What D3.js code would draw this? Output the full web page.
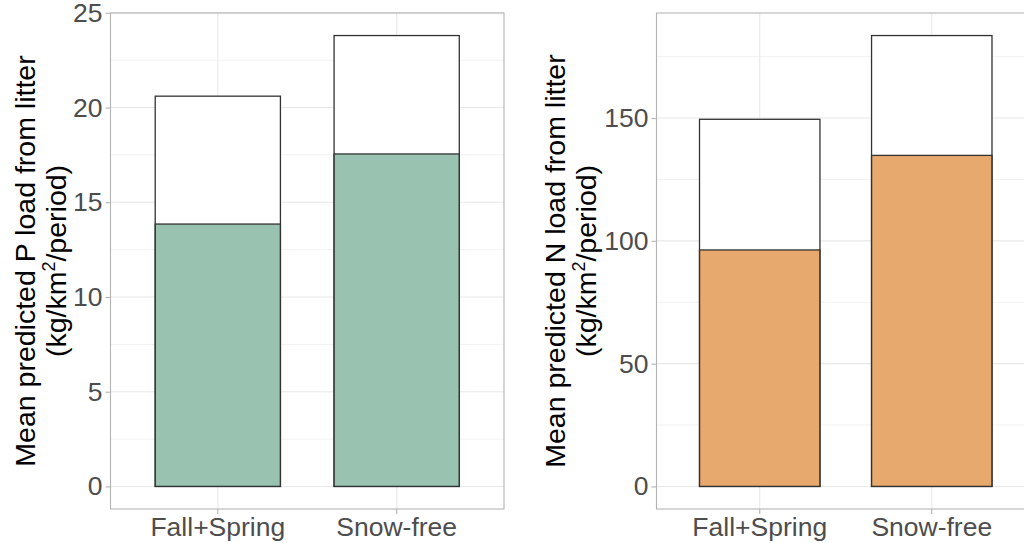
<!DOCTYPE html>
<html>
<head>
<meta charset="utf-8">
<script src="https://cdn.jsdelivr.net/npm/d3@7"></script>
<style>
  html, body { margin: 0; padding: 0; background: #fff; }
  svg { display: block; font-family: "Liberation Sans", Arial, Helvetica, sans-serif; }
</style>
</head>
<body>
<svg id="chart" width="1024" height="543"></svg>
<script>
// Seasons compared in both panels
const categories = ["Fall+Spring", "Snow-free"];

// Phosphorus load (kg/km²/period): total and litter-derived part
const pTotal  = [20.6, 23.8];
const pLitter = [13.85, 17.55];
const pTicks  = [0, 5, 10, 15, 20, 25];

// Nitrogen load (kg/km²/period): total and litter-derived part
const nTotal  = [149.5, 183.6];
const nLitter = [96.3, 134.8];
const nTicks  = [0, 50, 100, 150];

const svg = d3.select("#chart");

function panel(opts) {
  const { left, right, top, bottom, total, litter, ticks, fill, titleX, title } = opts;
  const g = svg.append("g");

  const x = d3.scaleBand()
    .domain(categories)
    .range([left, right])
    .paddingInner(0.3)
    .paddingOuter(0.25);

  const maxV = d3.max(total);
  const y = d3.scaleLinear()
    .domain([-0.05 * maxV, 1.05 * maxV])
    .range([bottom, top]);

  // minor grid (midpoints between major ticks)
  const step = ticks[1] - ticks[0];
  const minor = [];
  for (let i = 0; i < ticks.length; i++) {
    const v = ticks[i] + step / 2;
    if (v < y.domain()[1]) minor.push(v);
  }
  g.selectAll("line.minor").data(minor).join("line")
    .attr("x1", left).attr("x2", right)
    .attr("y1", d => y(d)).attr("y2", d => y(d))
    .attr("stroke", "#f2f2f2").attr("stroke-width", 1);

  // major grid
  g.selectAll("line.majory").data(ticks).join("line")
    .attr("x1", left).attr("x2", right)
    .attr("y1", d => y(d)).attr("y2", d => y(d))
    .attr("stroke", "#e8e8e8").attr("stroke-width", 1.1);
  g.selectAll("line.majorx").data(categories).join("line")
    .attr("x1", d => x(d) + x.bandwidth() / 2).attr("x2", d => x(d) + x.bandwidth() / 2)
    .attr("y1", top).attr("y2", bottom)
    .attr("stroke", "#e8e8e8").attr("stroke-width", 1.1);

  // total bars (white)
  g.selectAll("rect.total").data(categories).join("rect")
    .attr("x", d => x(d))
    .attr("width", x.bandwidth())
    .attr("y", (d, i) => y(total[i]))
    .attr("height", (d, i) => y(0) - y(total[i]))
    .attr("fill", "#fff")
    .attr("stroke", "#333").attr("stroke-width", 1.3);

  // litter-derived bars
  g.selectAll("rect.litter").data(categories).join("rect")
    .attr("x", d => x(d))
    .attr("width", x.bandwidth())
    .attr("y", (d, i) => y(litter[i]))
    .attr("height", (d, i) => y(0) - y(litter[i]))
    .attr("fill", fill).attr("fill-opacity", 0.7)
    .attr("stroke", "#333").attr("stroke-width", 1.3);

  // panel border
  g.append("rect")
    .attr("x", left).attr("y", top)
    .attr("width", right - left).attr("height", bottom - top)
    .attr("fill", "none").attr("stroke", "#b3b3b3").attr("stroke-width", 1.1);

  // y axis
  const yAxis = g.append("g")
    .attr("transform", `translate(${left},0)`)
    .call(d3.axisLeft(y).tickValues(ticks).tickSize(5).tickPadding(3));
  yAxis.select(".domain").remove();
  yAxis.selectAll(".tick line").attr("stroke", "#b3b3b3").attr("stroke-width", 1.1);
  yAxis.selectAll(".tick text")
    .attr("fill", "#4d4d4d").attr("font-size", 26.5)
    .attr("font-family", "Liberation Sans, Arial, sans-serif");

  // x axis
  const xAxis = g.append("g")
    .attr("transform", `translate(0,${bottom})`)
    .call(d3.axisBottom(x).tickSize(5).tickPadding(3));
  xAxis.select(".domain").remove();
  xAxis.selectAll(".tick line").attr("stroke", "#b3b3b3").attr("stroke-width", 1.1);
  xAxis.selectAll(".tick text")
    .attr("fill", "#4d4d4d").attr("font-size", 26.5)
    .attr("font-family", "Liberation Sans, Arial, sans-serif");

  // y axis title, two lines
  const cy = (top + bottom) / 2;
  g.append("text")
    .attr("transform", `translate(${titleX},${cy}) rotate(-90)`)
    .attr("text-anchor", "middle")
    .attr("font-size", 28.5)
    .attr("fill", "#000")
    .text(title);
  const t2 = g.append("text")
    .attr("transform", `translate(${titleX + 31},${cy}) rotate(-90)`)
    .attr("text-anchor", "middle")
    .attr("font-size", 28.5)
    .attr("fill", "#000");
  t2.append("tspan").text("(kg/km");
  t2.append("tspan").attr("font-size", 18).attr("dy", -11).text("2");
  t2.append("tspan").attr("dy", 11).text("/period)");
}

panel({
  left: 110.5, right: 504, top: 13, bottom: 509,
  total: pTotal, litter: pLitter, ticks: pTicks,
  fill: "#6ea98e", titleX: 35,
  title: "Mean predicted P load from litter"
});

panel({
  left: 656.5, right: 1035, top: 13, bottom: 509,
  total: nTotal, litter: nLitter, ticks: nTicks,
  fill: "#de8431", titleX: 565,
  title: "Mean predicted N load from litter"
});
</script>
</body>
</html>
